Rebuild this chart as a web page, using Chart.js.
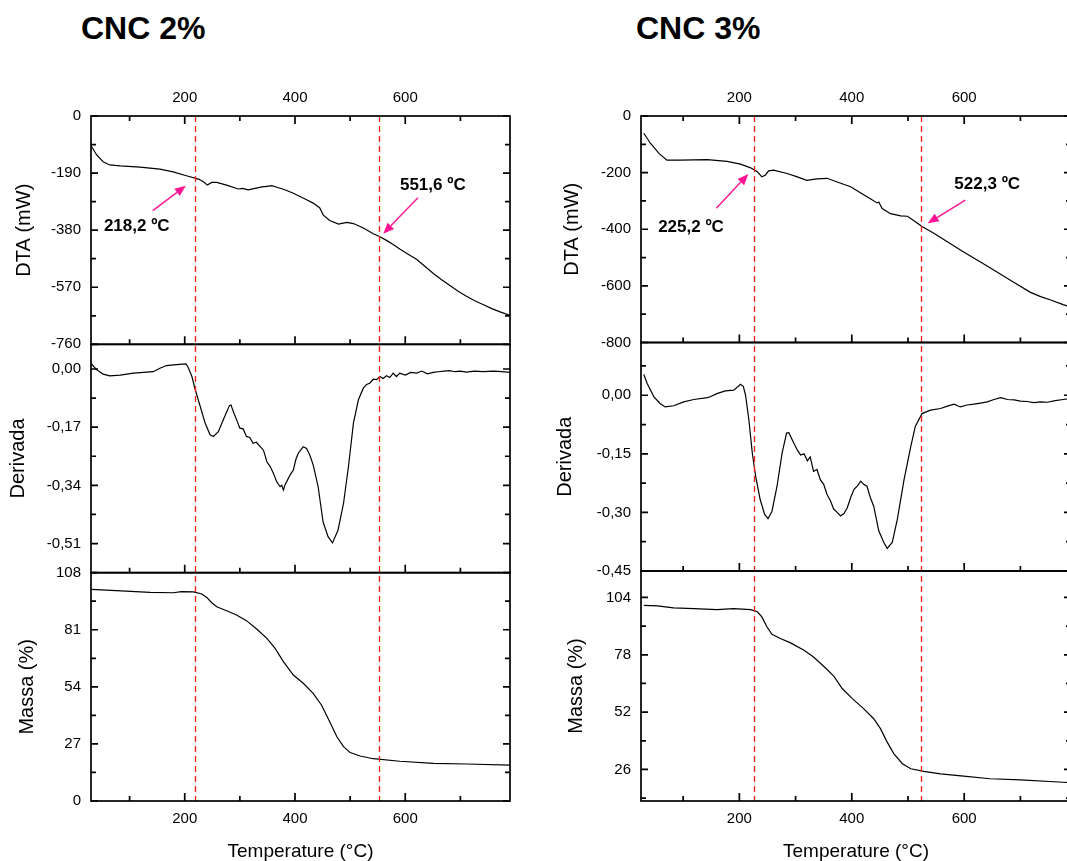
<!DOCTYPE html>
<html>
<head>
<meta charset="utf-8">
<script src="https://cdn.jsdelivr.net/npm/chart.js@4.4.1/dist/chart.umd.min.js"></script>
<style>
html, body { margin: 0; padding: 0; background: #fff; overflow: hidden; width: 1067px; height: 861px; }
.ttl { position: absolute; top: 12px; font: bold 32px "Liberation Sans", Arial, sans-serif; line-height: 32px; color: #000; white-space: nowrap; }
.box { position: absolute; top: 80px; }
</style>
</head>
<body>
<div class="ttl" style="left:81px">CNC 2%</div>
<div class="ttl" style="left:636px">CNC 3%</div>
<div class="box" style="left:0px"><canvas id="chart0" width="520" height="783"></canvas></div>
<div class="box" style="left:541px"><canvas id="chart1" width="540" height="783"></canvas></div>
<script>
const FONT = '"Liberation Sans", Arial, sans-serif';

// ---- CNC 2% ----
const dtaT2 = [30,40,52,64,83,119,155,179,203,225,234,241,249,258,276,297,305,315,330,340,349,358,367,376,385,397,409,421,433,445,451,463,479,494,506,524,542,554,566,578,590,606,621,636,651,666,681,696,711,726,742,757,772,790];
const dta2  = [-98,-129,-152,-163,-166,-170,-177,-186,-199,-210,-219,-230,-221,-221,-230,-243,-241,-246,-240,-236,-234,-232,-237,-242,-248,-257,-268,-279,-290,-306,-329,-348,-360,-354,-358,-373,-392,-402,-414,-428,-443,-461,-478,-501,-524,-545,-564,-583,-600,-615,-628,-641,-652,-664];

const derT2 = [30,40,52,64,83,107,143,155,167,185,202,206,213,219,228,237,246,252,261,270,281,284,288,294,300,306,312,318,324,330,337,343,349,355,361,367,373,376,379,382,385,391,397,402,406,410,415,421,427,433,442,451,460,468,478,488,497,506,515,524,530,536,542,548,554,560,566,572,578,584,590,600,610,621,630,640,651,660,670,681,690,700,711,725,742,760,775,790];
const der2  = [0.016,-0.002,-0.015,-0.020,-0.018,-0.012,-0.008,0.002,0.010,0.013,0.015,0.006,-0.022,-0.060,-0.109,-0.158,-0.192,-0.197,-0.183,-0.148,-0.107,-0.105,-0.124,-0.148,-0.173,-0.175,-0.197,-0.200,-0.217,-0.214,-0.227,-0.238,-0.271,-0.285,-0.305,-0.330,-0.344,-0.340,-0.354,-0.338,-0.329,-0.310,-0.295,-0.262,-0.246,-0.238,-0.227,-0.232,-0.252,-0.280,-0.344,-0.447,-0.490,-0.508,-0.471,-0.393,-0.285,-0.158,-0.090,-0.056,-0.045,-0.041,-0.030,-0.031,-0.022,-0.028,-0.020,-0.025,-0.012,-0.022,-0.012,-0.018,-0.010,-0.012,-0.006,-0.014,-0.010,-0.008,-0.006,-0.005,-0.008,-0.006,-0.009,-0.006,-0.008,-0.006,-0.008,-0.010];

const masT2 = [30,76,137,179,194,216,231,240,249,258,276,294,312,331,349,364,379,397,415,433,448,463,476,488,500,518,542,590,651,711,790];
const mas2  = [100.1,99.5,98.7,98.5,99.0,98.9,97.9,96.3,93.8,91.9,90.0,88.0,85.3,81.2,76.9,72.2,65.9,59.6,55.7,50.9,45.4,37.5,30.4,25.7,22.9,21.3,20.0,18.8,17.8,17.5,17.0];

const vlines2 = [218.2, 551.6];
const noteText2 = ['218,2 ºC', '551,6 ºC'];
const noteAt2 = [[113, -368], [650, -232]];
const arrowFrom2 = [[142, -315], [623, -272]];
const arrowTo2 = [[202, -232], [560, -392]];

// ---- CNC 3% ----
const dtaT3 = [30,42,57,71,95,143,178,202,220,232,240,246,252,261,285,303,320,338,356,374,398,416,433,445,448,454,469,487,499,510,525,546,570,599,629,659,688,718,736,754,776,790];
const dta3  = [-61,-97,-132,-156,-156,-154,-160,-170,-183,-197,-215,-209,-194,-191,-203,-215,-227,-222,-220,-233,-250,-272,-292,-307,-304,-327,-345,-353,-354,-369,-390,-414,-444,-480,-516,-552,-587,-623,-638,-650,-666,-675];

const derT3 = [30,36,48,59,68,83,101,119,143,148,160,175,190,202,207,211,217,223,229,237,245,251,258,267,276,284,288,297,303,309,315,321,326,332,338,344,350,356,362,368,374,380,386,392,398,404,410,416,421,427,433,439,448,457,463,472,481,493,505,513,525,540,558,570,582,593,605,617,629,641,653,665,677,689,700,712,724,736,748,762,776,790];
const der3  = [0.053,0.030,-0.004,-0.021,-0.030,-0.027,-0.017,-0.011,-0.006,-0.004,0.004,0.011,0.013,0.028,0.023,0.000,-0.064,-0.148,-0.208,-0.267,-0.305,-0.316,-0.297,-0.233,-0.148,-0.097,-0.096,-0.123,-0.140,-0.153,-0.150,-0.168,-0.158,-0.195,-0.190,-0.216,-0.228,-0.254,-0.270,-0.292,-0.300,-0.309,-0.303,-0.288,-0.262,-0.241,-0.232,-0.220,-0.228,-0.233,-0.262,-0.284,-0.347,-0.377,-0.392,-0.377,-0.318,-0.216,-0.131,-0.080,-0.047,-0.038,-0.034,-0.028,-0.023,-0.030,-0.025,-0.023,-0.020,-0.017,-0.011,-0.006,-0.011,-0.012,-0.015,-0.016,-0.019,-0.017,-0.018,-0.014,-0.011,-0.008];

const masT3 = [30,54,83,119,160,190,220,232,240,249,258,273,291,315,332,350,368,383,401,421,439,451,463,475,490,505,528,558,599,646,700,776,790];
const mas3  = [100.4,100.2,99.3,98.9,98.5,98.9,98.5,97.5,95.2,90.7,87.3,85.4,83.4,80.1,77.0,72.8,68.3,62.7,58.1,53.6,49.0,44.5,38.4,33.1,28.6,26.3,25.1,24.0,23.0,21.8,21.3,20.2,20.0];

const vlines3 = [225.2, 522.3];
const noteText3 = ['225,2 ºC', '522,3 ºC'];
const noteAt3 = [[114, -393], [641, -241]];
const arrowFrom3 = [[159, -326], [602, -297]];
const arrowTo3 = [[216, -205], [535, -379]];

// ---- axis ticks ----
const xMajor = [200, 400, 600];
const xMinor = [100, 300, 500, 700];
const dtaTicks2 = [0, -190, -380, -570, -760];
const dtaMinor2 = [-95, -285, -475, -665];
const derTicks2 = [0, -0.17, -0.34, -0.51];
const derMinor2 = [-0.085, -0.255, -0.425];
const masTicks2 = [108, 81, 54, 27, 0];
const masMinor2 = [94.5, 67.5, 40.5, 13.5];
const dtaTicks3 = [0, -200, -400, -600, -800];
const dtaMinor3 = [-100, -300, -500, -700];
const derTicks3 = [0, -0.15, -0.30, -0.45];
const derMinor3 = [0.075, -0.075, -0.225, -0.375];
const masTicks3 = [104, 78, 52, 26];
const masMinor3 = [91, 65, 39, 13];

function pts(t, v) { return t.map((x, i) => ({ x: x, y: v[i] })); }
const intFmt = v => String(v);
const decFmt = v => v.toFixed(2).replace('.', ',');

const framePlugin = {
    id: 'frame',
    afterDatasetsDraw(chart, args, o) {
        const ctx = chart.ctx, a = chart.chartArea, xs = chart.scales.x;
        ctx.save();
        // red dashed markers through all three panels
        ctx.strokeStyle = '#ff1a1a';
        ctx.lineWidth = 1.3;
        ctx.setLineDash([6, 4]);
        o.vlines.forEach(t => {
            const px = Math.round(xs.getPixelForValue(t)) + 0.5;
            ctx.beginPath(); ctx.moveTo(px, a.top); ctx.lineTo(px, a.bottom); ctx.stroke();
        });
        ctx.setLineDash([]);
        // panel frames with inward ticks
        ctx.strokeStyle = '#000';
        ctx.lineWidth = 1.7;
        const yTick = (ys, v, len) => {
            const py = ys.getPixelForValue(v);
            ctx.moveTo(a.left, py); ctx.lineTo(a.left + len, py);
            ctx.moveTo(a.right, py); ctx.lineTo(a.right - len, py);
        };
        const xTick = (ys, t, len, top) => {
            const px = xs.getPixelForValue(t);
            ctx.moveTo(px, ys.bottom); ctx.lineTo(px, ys.bottom - len);
            if (top) { ctx.moveTo(px, ys.top); ctx.lineTo(px, ys.top + len); }
        };
        o.panels.forEach((p, k) => {
            const ys = chart.scales[p.id];
            ctx.strokeRect(a.left, ys.top, a.right - a.left, ys.bottom - ys.top);
            ctx.beginPath();
            p.ticks.forEach(v => yTick(ys, v, 7));
            p.minor.forEach(v => yTick(ys, v, 5));
            xMajor.forEach(t => xTick(ys, t, 8, k === 0));
            xMinor.forEach(t => xTick(ys, t, 5, k === 0));
            ctx.stroke();
        });
        // arrows and labels on the DTA panel
        const yt = chart.scales[o.panels[0].id];
        ctx.strokeStyle = '#ff1493';
        ctx.fillStyle = '#ff1493';
        ctx.lineWidth = 1.4;
        o.from.forEach((f, i) => {
            const x0 = xs.getPixelForValue(f[0]), y0 = yt.getPixelForValue(f[1]);
            const x1 = xs.getPixelForValue(o.to[i][0]), y1 = yt.getPixelForValue(o.to[i][1]);
            const ang = Math.atan2(y1 - y0, x1 - x0), hl = 11, hw = 4.5;
            const bx = x1 - hl * Math.cos(ang), by = y1 - hl * Math.sin(ang);
            ctx.beginPath(); ctx.moveTo(x0, y0); ctx.lineTo(bx, by); ctx.stroke();
            ctx.beginPath();
            ctx.moveTo(x1, y1);
            ctx.lineTo(bx + hw * Math.sin(ang), by - hw * Math.cos(ang));
            ctx.lineTo(bx - hw * Math.sin(ang), by + hw * Math.cos(ang));
            ctx.closePath(); ctx.fill();
        });
        ctx.fillStyle = '#000';
        ctx.font = 'bold 17px ' + FONT;
        ctx.textAlign = 'center';
        ctx.textBaseline = 'middle';
        o.text.forEach((s, i) => {
            ctx.fillText(s, xs.getPixelForValue(o.at[i][0]), yt.getPixelForValue(o.at[i][1]));
        });
        ctx.restore();
    }
};

function xScale(pos, h, tMin, tMax, title) {
    return {
        type: 'linear', position: pos, min: tMin, max: tMax,
        grid: { display: false, drawTicks: false }, border: { display: false },
        afterBuildTicks: s => { s.ticks = xMajor.map(v => ({ value: v })); },
        afterFit: s => { s.height = h; },
        ticks: { font: { family: FONT, size: 15 }, color: '#000', padding: 9, maxRotation: 0, autoSkip: false, callback: intFmt },
        title: { display: !!title, text: title || '', font: { family: FONT, size: 19 }, color: '#000', padding: { top: 0, bottom: 0 } }
    };
}

function makeColumn(id, tMin, tMax, yWidth, panels, notes) {
    const scales = {
        x: xScale('bottom', 62, tMin, tMax, 'Temperature (°C)'),
        x2: xScale('top', 36, tMin, tMax, null)
    };
    // defined bottom-first so the last (DTA) lands on top of the stack
    panels.slice().reverse().forEach(p => {
        scales[p.id] = {
            type: 'linear', position: 'left', stack: 'col', stackWeight: p.weight,
            min: p.min, max: p.max,
            grid: { display: false, drawTicks: false }, border: { display: false },
            afterBuildTicks: s => { s.ticks = p.ticks.map(v => ({ value: v })); },
            afterFit: s => { s.width = yWidth; },
            ticks: { font: { family: FONT, size: 15 }, color: '#000', padding: 10, autoSkip: false, callback: p.fmt },
            title: { display: true, text: p.title, font: { family: FONT, size: 20 }, color: '#000', padding: { top: p.titlePad, bottom: 0 } }
        };
    });
    return new Chart(document.getElementById(id), {
        type: 'line',
        data: {
            datasets: panels.map(p => ({
                data: p.data, xAxisID: 'x', yAxisID: p.id,
                borderColor: '#000', borderWidth: 1.2, pointRadius: 0, fill: false, tension: 0
            }))
        },
        options: {
            responsive: false, animation: false, devicePixelRatio: 1,
            layout: { padding: { left: 0, right: 10, top: 0, bottom: 0 } },
            plugins: {
                legend: { display: false }, tooltip: { enabled: false }, title: { display: false },
                frame: Object.assign({ panels: panels }, notes)
            },
            scales: scales
        },
        plugins: [framePlugin]
    });
}

makeColumn('chart0', 30, 790, 91, [
    { id: 'yD', title: 'DTA (mW)', min: -760, max: 0, ticks: dtaTicks2, minor: dtaMinor2, fmt: intFmt, titlePad: 12, weight: 1, data: pts(dtaT2, dta2) },
    { id: 'yR', title: 'Derivada', min: -0.595, max: 0.072, ticks: derTicks2, minor: derMinor2, fmt: decFmt, titlePad: 6, weight: 1, data: pts(derT2, der2) },
    { id: 'yM', title: 'Massa (%)', min: 0, max: 108, ticks: masTicks2, minor: masMinor2, fmt: intFmt, titlePad: 15, weight: 1, data: pts(masT2, mas2) }
], { vlines: vlines2, text: noteText2, at: noteAt2, from: arrowFrom2, to: arrowTo2 });

makeColumn('chart1', 25, 790, 100, [
    { id: 'yD', title: 'DTA (mW)', min: -800, max: 0, ticks: dtaTicks3, minor: dtaMinor3, fmt: intFmt, titlePad: 19, weight: 226.5, data: pts(dtaT3, dta3) },
    { id: 'yR', title: 'Derivada', min: -0.45, max: 0.135, ticks: derTicks3, minor: derMinor3, fmt: decFmt, titlePad: 12.5, weight: 228.5, data: pts(derT3, der3) },
    { id: 'yM', title: 'Massa (%)', min: 11.7, max: 116, ticks: masTicks3, minor: masMinor3, fmt: intFmt, titlePad: 23.5, weight: 230, data: pts(masT3, mas3) }
], { vlines: vlines3, text: noteText3, at: noteAt3, from: arrowFrom3, to: arrowTo3 });
</script>
</body>
</html>
